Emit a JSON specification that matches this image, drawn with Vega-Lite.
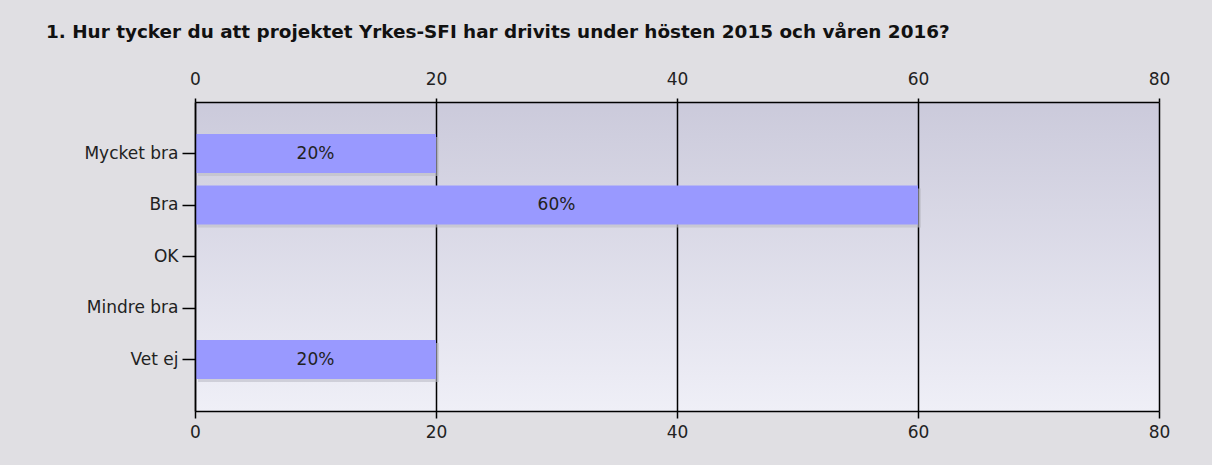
{
  "$schema": "https://vega.github.io/schema/vega-lite/v6.json",
  "width": 964,
  "height": 309,
  "autosize": "none",
  "padding": {"left": 195, "top": 102, "right": 53, "bottom": 54},
  "background": "#e0dfe3",
  "title": {
    "text": "1. Hur tycker du att projektet Yrkes-SFI har drivits under hösten 2015 och våren 2016?",
    "anchor": "start",
    "frame": "group",
    "dx": -149,
    "offset": 29,
    "font": "DejaVu Sans",
    "fontSize": 18.4,
    "fontWeight": "bold",
    "color": "#111111"
  },
  "data": {
    "values": [
      {"svar": "Mycket bra", "procent": 20, "etikett": "20%"},
      {"svar": "Bra", "procent": 60, "etikett": "60%"},
      {"svar": "OK", "procent": 0, "etikett": ""},
      {"svar": "Mindre bra", "procent": 0, "etikett": ""},
      {"svar": "Vet ej", "procent": 20, "etikett": "20%"}
    ]
  },
  "config": {
    "view": {
      "stroke": null,
      "fill": {
        "gradient": "linear",
        "x1": 0, "y1": 0, "x2": 0, "y2": 1,
        "stops": [
          {"offset": 0, "color": "#cbcadb"},
          {"offset": 1, "color": "#efeff7"}
        ]
      }
    },
    "axis": {
      "labelFont": "DejaVu Sans",
      "labelFontSize": 17,
      "labelColor": "#222222",
      "domainColor": "#000000",
      "tickColor": "#000000",
      "domainWidth": 1.5,
      "tickWidth": 1.5
    }
  },
  "encoding": {
    "y": {
      "field": "svar",
      "type": "nominal",
      "sort": null,
      "scale": {"paddingInner": 0.24, "paddingOuter": 0.62},
      "axis": {"title": null, "tickSize": 13, "labelPadding": 4, "domain": true, "zindex": 1}
    }
  },
  "resolve": {"axis": {"x": "independent"}},
  "layer": [
    {
      "mark": {"type": "bar", "color": "#bcbcc6", "opacity": 0.6, "xOffset": 3, "yOffset": 3},
      "encoding": {
        "x": {
          "field": "procent",
          "type": "quantitative",
          "scale": {"domain": [0, 80], "nice": false},
          "axis": {
            "orient": "top",
            "values": [0, 20, 40, 60, 80],
            "title": null,
            "grid": true,
            "gridColor": "#000000",
            "gridOpacity": 1,
            "gridWidth": 1.5,
            "tickSize": 4,
            "labelPadding": 10,
            "labelFlush": false
          }
        }
      }
    },
    {
      "mark": {"type": "bar", "color": "#9999ff"},
      "encoding": {
        "x": {
          "field": "procent",
          "type": "quantitative",
          "axis": {
            "orient": "bottom",
            "values": [0, 20, 40, 60, 80],
            "title": null,
            "grid": false,
            "tickSize": 7,
            "labelPadding": 6,
            "labelFlush": false
          }
        }
      }
    },
    {
      "mark": {"type": "text", "font": "DejaVu Sans", "fontSize": 17, "color": "#222222"},
      "encoding": {
        "x": {"field": "procent", "type": "quantitative", "stack": "zero", "bandPosition": 0.5, "axis": null},
        "text": {"field": "etikett"}
      }
    }
  ]
}
